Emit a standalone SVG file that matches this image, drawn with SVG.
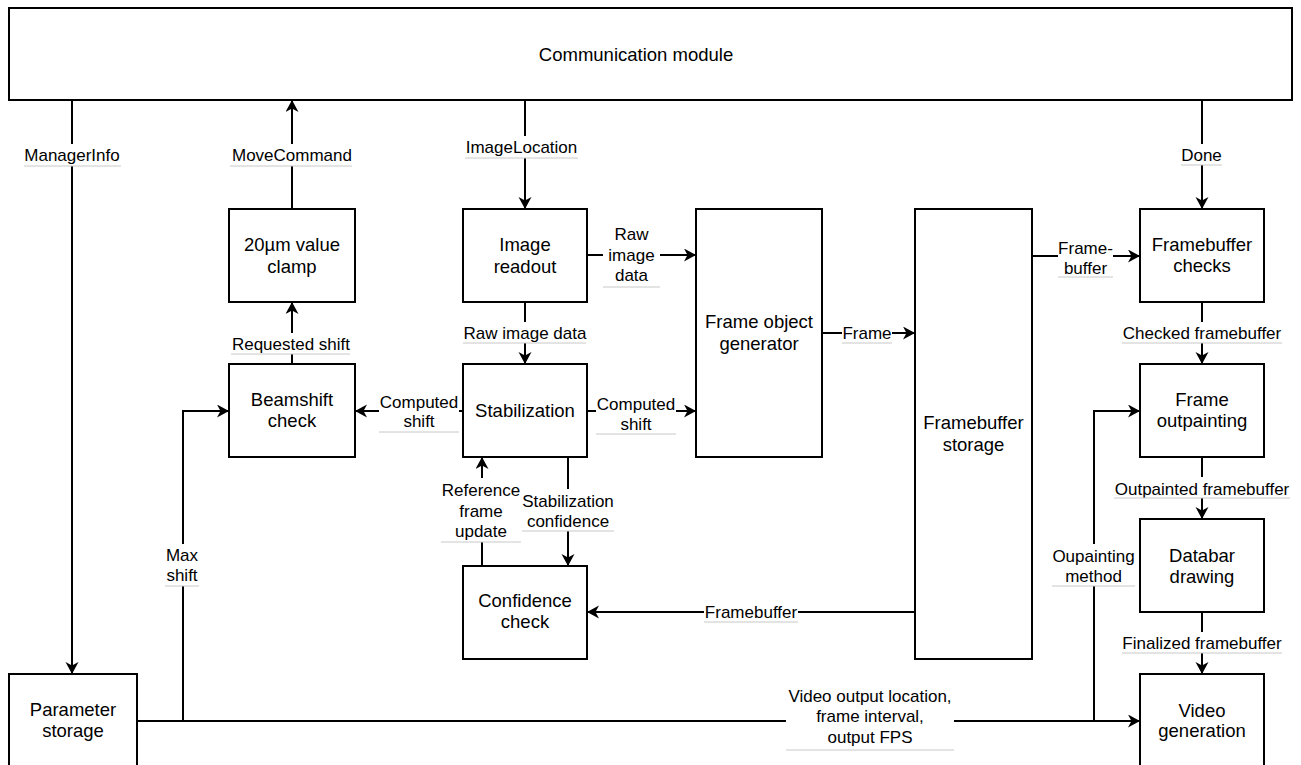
<svg xmlns="http://www.w3.org/2000/svg" width="1301" height="765" viewBox="0 0 1301 765">
<defs>
<marker id="arr" markerWidth="14" markerHeight="14" refX="12" refY="6.5" orient="auto" markerUnits="userSpaceOnUse">
<path d="M0,0 L12,6.5 L0,13 L3.5,6.5 Z" fill="#000"/>
</marker>
<style>
.box{fill:#fff;stroke:#000;stroke-width:2}
.nt{font-family:"Liberation Sans",Arial,sans-serif;font-size:18.5px;fill:#000;text-anchor:middle}
.lt{font-family:"Liberation Sans",Arial,sans-serif;font-size:17px;fill:#000;text-anchor:middle}
.c{fill:none;stroke:#000;stroke-width:2}
.a{marker-end:url(#arr)}
.lb{fill:#fff;stroke:none}
.ul{stroke:#c8c8c8;stroke-width:1}
</style>
</defs>
<rect width="1301" height="765" fill="#fff"/>

<g id="connectors">
<path class="c a" d="M72,100 V674"/>
<path class="c a" d="M292,209 V100"/>
<path class="c a" d="M525,100 V209"/>
<path class="c a" d="M1202,100 V209"/>
<path class="c a" d="M586,255 H696"/>
<path class="c a" d="M525,302 V364"/>
<path class="c a" d="M292,364 V302"/>
<path class="c a" d="M463,411 H355"/>
<path class="c a" d="M587,411 H696"/>
<path class="c a" d="M822,333 H915"/>
<path class="c a" d="M1032,256 H1140"/>
<path class="c a" d="M1202,302 V364"/>
<path class="c a" d="M1202,457 V519"/>
<path class="c a" d="M1202,612 V674"/>
<path class="c a" d="M568,457 V566"/>
<path class="c a" d="M482,566 V457"/>
<path class="c a" d="M915,612 H587"/>
<path class="c a" d="M137,721 H1140"/>
<path class="c a" d="M183,721 V411 H229"/>
<path class="c a" d="M1094,721 V411 H1140"/>

<g id="labels">
<rect class="lb" x="24" y="144" width="97" height="22"/><text class="lt" x="72" y="161">ManagerInfo</text><line class="ul" x1="24" y1="166" x2="121" y2="166"/>
<rect class="lb" x="230" y="144" width="122" height="22"/><text class="lt" x="292" y="161">MoveCommand</text><line class="ul" x1="230" y1="166" x2="352" y2="166"/>
<rect class="lb" x="465" y="136" width="113" height="22"/><text class="lt" x="521.5" y="152.5">ImageLocation</text><line class="ul" x1="465" y1="158" x2="578" y2="158"/>
<rect class="lb" x="1181" y="144" width="41" height="21"/><text class="lt" x="1201.5" y="161">Done</text><line class="ul" x1="1181" y1="165" x2="1222" y2="165"/>
<rect class="lb" x="603" y="222" width="57" height="65"/><text class="lt" x="631.5" y="240">Raw</text><text class="lt" x="631.5" y="261">image</text><text class="lt" x="631.5" y="281">data</text><line class="ul" x1="603" y1="287" x2="660" y2="287"/>
<rect class="lb" x="463" y="322" width="123" height="21"/><text class="lt" x="525" y="339">Raw image data</text><line class="ul" x1="463" y1="343" x2="586" y2="343"/>
<rect class="lb" x="231" y="333" width="119" height="21"/><text class="lt" x="291" y="350">Requested shift</text><line class="ul" x1="231" y1="354" x2="350" y2="354"/>
<rect class="lb" x="379" y="390" width="80" height="42"/><text class="lt" x="419" y="408">Computed</text><text class="lt" x="419" y="427">shift</text><line class="ul" x1="379" y1="432" x2="459" y2="432"/>
<rect class="lb" x="596" y="392" width="80" height="42"/><text class="lt" x="636" y="409.5">Computed</text><text class="lt" x="636" y="429.5">shift</text><line class="ul" x1="596" y1="434" x2="676" y2="434"/>
<rect class="lb" x="842" y="322" width="50" height="21"/><text class="lt" x="867" y="339">Frame</text><line class="ul" x1="842" y1="343" x2="892" y2="343"/>
<rect class="lb" x="1058" y="236" width="55" height="41"/><text class="lt" x="1085.5" y="253.5">Frame-</text><text class="lt" x="1085.5" y="273.5">buffer</text><line class="ul" x1="1058" y1="277" x2="1113" y2="277"/>
<rect class="lb" x="1122" y="322" width="160" height="21"/><text class="lt" x="1202" y="339">Checked framebuffer</text><line class="ul" x1="1122" y1="343" x2="1282" y2="343"/>
<rect class="lb" x="1114" y="477" width="176" height="21"/><text class="lt" x="1202" y="494.5">Outpainted framebuffer</text><line class="ul" x1="1114" y1="498" x2="1290" y2="498"/>
<rect class="lb" x="1122" y="632" width="160" height="21"/><text class="lt" x="1202" y="649">Finalized framebuffer</text><line class="ul" x1="1122" y1="653" x2="1282" y2="653"/>
<rect class="lb" x="1052" y="544" width="83" height="42"/><text class="lt" x="1093.5" y="562">Oupainting</text><text class="lt" x="1093.5" y="582">method</text><line class="ul" x1="1052" y1="586" x2="1135" y2="586"/>
<rect class="lb" x="522" y="489" width="92" height="42"/><text class="lt" x="568" y="507">Stabilization</text><text class="lt" x="568" y="527">confidence</text><line class="ul" x1="522" y1="531" x2="614" y2="531"/>
<rect class="lb" x="441" y="478" width="80" height="64"/><text class="lt" x="481" y="496">Reference</text><text class="lt" x="481" y="517">frame</text><text class="lt" x="481" y="537">update</text><line class="ul" x1="441" y1="542" x2="521" y2="542"/>
<rect class="lb" x="704" y="601" width="94" height="21"/><text class="lt" x="751" y="618">Framebuffer</text><line class="ul" x1="704" y1="622" x2="798" y2="622"/>
<rect class="lb" x="165" y="544" width="34" height="42"/><text class="lt" x="182" y="561">Max</text><text class="lt" x="182" y="581">shift</text><line class="ul" x1="165" y1="586" x2="199" y2="586"/>
<rect class="lb" x="786" y="684" width="168" height="66"/><text class="lt" x="870" y="702">Video output location,</text><text class="lt" x="870" y="722">frame interval,</text><text class="lt" x="870" y="743">output FPS</text><line class="ul" x1="786" y1="750" x2="954" y2="750"/>
</g>
</g>

<g id="communication-module"><rect class="box" x="9" y="8" width="1283" height="92"/><text class="nt" x="636" y="60.5">Communication module</text></g>
<g id="value-clamp"><rect class="box" x="229" y="209" width="126" height="93"/><text class="nt" x="292" y="251">20µm value</text><text class="nt" x="292" y="272.5">clamp</text></g>
<g id="image-readout"><rect class="box" x="463" y="209" width="124" height="93"/><text class="nt" x="525" y="251">Image</text><text class="nt" x="525" y="272.5">readout</text></g>
<g id="beamshift-check"><rect class="box" x="229" y="364" width="126" height="93"/><text class="nt" x="292" y="406">Beamshift</text><text class="nt" x="292" y="426.5">check</text></g>
<g id="stabilization"><rect class="box" x="463" y="364" width="124" height="93"/><text class="nt" x="525" y="417">Stabilization</text></g>
<g id="confidence-check"><rect class="box" x="463" y="566" width="124" height="93"/><text class="nt" x="525" y="606.5">Confidence</text><text class="nt" x="525" y="628">check</text></g>
<g id="frame-object-generator"><rect class="box" x="696" y="209" width="126" height="248"/><text class="nt" x="759" y="328">Frame object</text><text class="nt" x="759" y="350">generator</text></g>
<g id="framebuffer-storage"><rect class="box" x="915" y="209" width="117" height="450"/><text class="nt" x="973.5" y="429">Framebuffer</text><text class="nt" x="973.5" y="450.5">storage</text></g>
<g id="framebuffer-checks"><rect class="box" x="1140" y="209" width="124" height="93"/><text class="nt" x="1202" y="251">Framebuffer</text><text class="nt" x="1202" y="272">checks</text></g>
<g id="frame-outpainting"><rect class="box" x="1140" y="364" width="124" height="93"/><text class="nt" x="1202" y="405.5">Frame</text><text class="nt" x="1202" y="427">outpainting</text></g>
<g id="databar-drawing"><rect class="box" x="1140" y="519" width="124" height="93"/><text class="nt" x="1202" y="561.5">Databar</text><text class="nt" x="1202" y="583">drawing</text></g>
<g id="video-generation"><rect class="box" x="1140" y="674" width="124" height="93"/><text class="nt" x="1202" y="716.5">Video</text><text class="nt" x="1202" y="737">generation</text></g>
<g id="parameter-storage"><rect class="box" x="9" y="674" width="128" height="93"/><text class="nt" x="73" y="715.5">Parameter</text><text class="nt" x="73" y="737">storage</text></g>
</svg>
